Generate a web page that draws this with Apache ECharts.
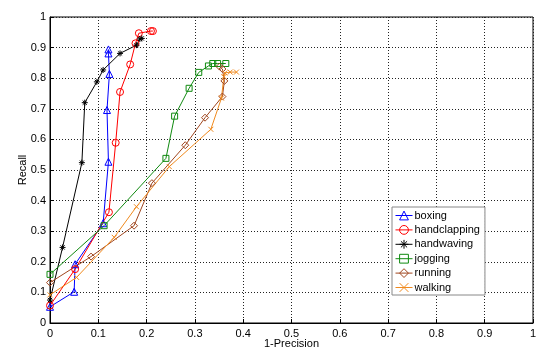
<!DOCTYPE html>
<html>
<head>
<meta charset="utf-8">
<script src="https://cdn.jsdelivr.net/npm/echarts@6/dist/echarts.min.js"></script>
<style>html,body{margin:0;padding:0;background:#fff}#c{width:553px;height:355px}</style>
</head>
<body>
<div id="c"></div>
<script>
var seriesNames = ['boxing','handclapping','handwaving','jogging','running','walking'];
var tickLabels = ['0','0.1','0.2','0.3','0.4','0.5','0.6','0.7','0.8','0.9','1'];
var boxing = [[0,0.053],[0.050,0.102],[0.052,0.192],[0.110,0.326],[0.121,0.527],[0.118,0.696],[0.123,0.814],[0.121,0.881],[0.121,0.894]];
var handclapping = [[0,0.057],[0.052,0.176],[0.122,0.362],[0.136,0.589],[0.145,0.755],[0.166,0.845],[0.177,0.914],[0.184,0.947],[0.209,0.954],[0.213,0.954]];
var handwaving = [[0,0.075],[0.026,0.247],[0.066,0.524],[0.072,0.720],[0.097,0.788],[0.110,0.827],[0.145,0.881],[0.179,0.908],[0.186,0.928],[0.190,0.930]];
var jogging = [[0,0.159],[0.112,0.318],[0.240,0.538],[0.258,0.676],[0.288,0.767],[0.308,0.819],[0.328,0.840],[0.337,0.848],[0.347,0.848],[0.364,0.848]];
var running = [[0,0.132],[0.085,0.217],[0.174,0.318],[0.211,0.457],[0.280,0.581],[0.321,0.671],[0.357,0.740],[0.361,0.791],[0.357,0.830],[0.351,0.838]];
var walking = [[0,0.092],[0.055,0.149],[0.133,0.280],[0.179,0.380],[0.247,0.511],[0.333,0.633],[0.355,0.735],[0.360,0.805],[0.362,0.817],[0.373,0.820],[0.386,0.820]];

var colors = ['#0000ff','#ff0000','#000000','#108a10','#a0461e','#f08a1e'];
var symbols = [
  'path://M5,0L10,10L0,10Z',
  'path://M5,0A5,5,0,1,1,4.99,0Z',
  'path://M5,0L5,10M0,5L10,5M1.5,1.5L8.5,8.5M8.5,1.5L1.5,8.5',
  'path://M0,0L10,0L10,10L0,10Z',
  'path://M5,0L10,5L5,10L0,5Z',
  'path://M0,0L10,10M10,0L0,10'
];
var sizes = [7,7,6,6,7,5];
var dataList = [boxing, handclapping, handwaving, jogging, running, walking];

var chart = echarts.init(document.getElementById('c'), null, {renderer:'canvas'});
var font = 'Liberation Sans, Arial, Helvetica, sans-serif';
var series = seriesNames.map(function(n,i){
  return {
    name: n, type: 'line', data: dataList[i],
    symbol: symbols[i], symbolSize: sizes[i], showAllSymbol: true,
    lineStyle: {color: colors[i], width: 1},
    itemStyle: {color: 'rgba(255,255,255,0)', borderColor: colors[i], borderWidth: 1},
    emphasis: {disabled: true}, animation: false
  };
});
chart.setOption({
  backgroundColor: '#fff',
  animation: false,
  grid: {left: 50, right: 20, top: 17, bottom: 32, show: true, borderColor: '#000', borderWidth: 1,
         backgroundColor: 'transparent', outerBoundsMode: 'none', containLabel: false},
  xAxis: {
    type: 'value', min: 0, max: 1, interval: 0.1,
    name: '1-Precision', nameLocation: 'middle', nameGap: 15, nameMoveOverlap: false,
    nameTextStyle: {fontFamily: font, fontSize: 11, color: '#000'},
    axisLine: {show: true, lineStyle: {color: '#000', width: 1}},
    axisTick: {show: true, inside: true, length: 4, lineStyle: {color: '#000'}},
    axisLabel: {fontFamily: font, fontSize: 11, color: '#000', margin: 5,
      formatter: function(v){ return tickLabels[Math.round(v*10)]; }},
    splitLine: {show: true, lineStyle: {color: '#222', type: [1,2], width: 1}}
  },
  yAxis: {
    type: 'value', min: 0, max: 1, interval: 0.1,
    name: 'Recall', nameLocation: 'middle', nameGap: 22, nameMoveOverlap: false,
    nameTextStyle: {fontFamily: font, fontSize: 11, color: '#000'},
    axisLine: {show: true, lineStyle: {color: '#000', width: 1}},
    axisTick: {show: true, inside: true, length: 4, lineStyle: {color: '#000'}},
    axisLabel: {fontFamily: font, fontSize: 11, color: '#000', margin: 4,
      formatter: function(v){ return tickLabels[Math.round(v*10)]; }},
    splitLine: {show: true, lineStyle: {color: '#222', type: [1,2], width: 1}}
  },
  legend: {
    orient: 'vertical', left: 392, top: 207,
    backgroundColor: '#fff', borderColor: '#888', borderWidth: 1,
    padding: [3, 5, 2, 3], itemGap: 3.4, itemWidth: 17, itemHeight: 11,
    itemStyle: {borderWidth: 1},
    lineStyle: {width: 1},
    textStyle: {fontFamily: font, fontSize: 11, color: '#000', padding: [0,0,0,-3]},
    data: seriesNames
  },
  series: series
});
</script>
</body>
</html>
